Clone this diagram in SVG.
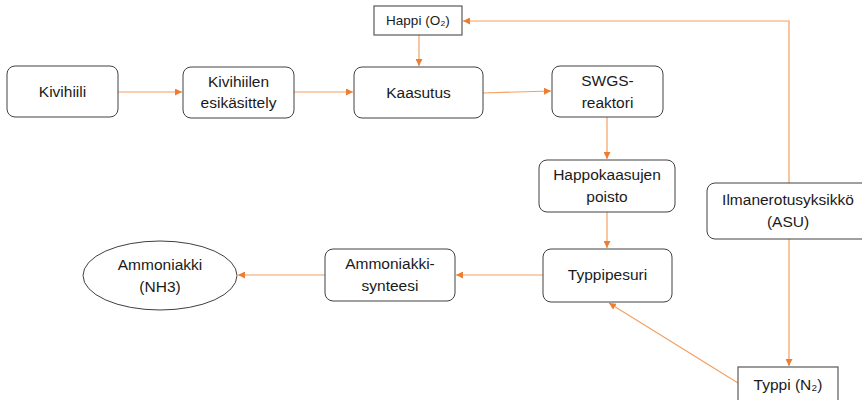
<svg xmlns="http://www.w3.org/2000/svg" width="862" height="400" viewBox="0 0 862 400">
  <style>
    .box { fill: #ffffff; stroke: #404040; stroke-width: 1; }
    .sq { fill: #ffffff; stroke: #595959; stroke-width: 1.2; }
    .lbl { font-family: "Liberation Sans", Arial, sans-serif; font-size: 15.5px; fill: #1a1a1a; text-anchor: middle; }
    .sm { font-size: 13.5px; }
    .flow { fill: none; stroke: #F4A063; stroke-width: 1.2; marker-end: url(#arrow); }
  </style>
  <defs>
    <marker id="arrow" viewBox="0 0 10 10" refX="10" refY="5" markerWidth="7" markerHeight="7" markerUnits="userSpaceOnUse" orient="auto">
      <path d="M0,0 L10,5 L0,10 z" fill="#ED7D31"/>
    </marker>
  </defs>

  <rect width="862" height="400" fill="#ffffff"/>

  <g id="connectors">
    <line class="flow" x1="118" y1="92" x2="182" y2="92"/>
    <line class="flow" x1="294" y1="92" x2="353" y2="92"/>
    <line class="flow" x1="419" y1="35" x2="419" y2="66"/>
    <line class="flow" x1="483" y1="93" x2="551" y2="91"/>
    <line class="flow" x1="607" y1="117" x2="607" y2="159"/>
    <line class="flow" x1="607" y1="212" x2="607" y2="248"/>
    <line class="flow" x1="543" y1="275" x2="456" y2="275"/>
    <line class="flow" x1="325" y1="275" x2="238" y2="275"/>
    <polyline class="flow" points="789,183 789,21 463,21"/>
    <line class="flow" x1="789" y1="239" x2="789" y2="366"/>
    <line class="flow" x1="738" y1="383" x2="609" y2="303"/>
  </g>

  <g id="happi">
    <rect class="sq" x="374" y="6" width="88" height="29"/>
    <text class="lbl sm" x="418" y="25">Happi (O₂)</text>
  </g>

  <g id="kivihiili">
    <rect class="box" x="7" y="66" width="111" height="51" rx="8"/>
    <text class="lbl" x="62.5" y="97">Kivihiili</text>
  </g>

  <g id="esikasittely">
    <rect class="box" x="183" y="67" width="111" height="51" rx="8"/>
    <text class="lbl" x="238.5" y="87">Kivihiilen</text>
    <text class="lbl" x="238.5" y="108">esikäsittely</text>
  </g>

  <g id="kaasutus">
    <rect class="box" x="354" y="67" width="129" height="51" rx="8"/>
    <text class="lbl" x="418.5" y="98">Kaasutus</text>
  </g>

  <g id="swgs">
    <rect class="box" x="552" y="66" width="111" height="51" rx="8"/>
    <text class="lbl" x="607.5" y="86">SWGS-</text>
    <text class="lbl" x="607.5" y="108">reaktori</text>
  </g>

  <g id="happokaasut">
    <rect class="box" x="539" y="160" width="136" height="52" rx="8"/>
    <text class="lbl" x="607" y="180">Happokaasujen</text>
    <text class="lbl" x="607" y="202">poisto</text>
  </g>

  <g id="asu">
    <rect class="box" x="707" y="183" width="170" height="56" rx="8"/>
    <text class="lbl" x="788" y="205">Ilmanerotusyksikkö</text>
    <text class="lbl" x="788" y="227">(ASU)</text>
  </g>

  <g id="typpipesuri">
    <rect class="box" x="543" y="249" width="129" height="53" rx="8"/>
    <text class="lbl" x="607.5" y="280">Typpipesuri</text>
  </g>

  <g id="synteesi">
    <rect class="box" x="325" y="249" width="130" height="52" rx="8"/>
    <text class="lbl" x="390" y="269">Ammoniakki-</text>
    <text class="lbl" x="390" y="291">synteesi</text>
  </g>

  <g id="ammoniakki">
    <ellipse class="box" cx="160" cy="275.5" rx="77" ry="34.5"/>
    <text class="lbl" x="160" y="270">Ammoniakki</text>
    <text class="lbl" x="160" y="292">(NH3)</text>
  </g>

  <g id="typpi">
    <rect class="sq" x="738" y="367" width="100" height="40"/>
    <text class="lbl" x="788" y="390">Typpi (N₂)</text>
  </g>
</svg>
